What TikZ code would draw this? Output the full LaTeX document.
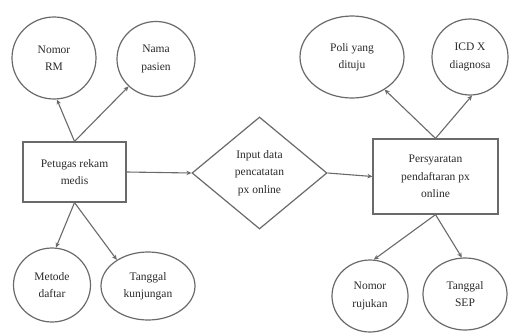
\documentclass[tikz,border=0pt]{standalone}
\usepackage{fontspec}
\setmainfont{Liberation Serif}
\usetikzlibrary{shapes.geometric,arrows.meta}
\definecolor{lin}{HTML}{6A6A6A}
\definecolor{txt}{HTML}{2A2A2A}
\tikzset{
  lbl/.style={text=txt,align=center,font=\fontsize{11.5}{17.5}\selectfont},
  bub/.style={ellipse,draw=lin,line width=1.2pt,inner sep=0pt,lbl},
  boxn/.style={rectangle,draw=lin,line width=1.2pt,inner sep=0pt,lbl},
  dia/.style={diamond,draw=lin,line width=1.2pt,inner sep=0pt,lbl},
  arr/.style={draw=lin,line width=1.1pt,-{Stealth[length=5pt,width=4.5pt]}}
}
\begin{document}
\begin{tikzpicture}[x=1pt,y=-1pt]
\useasboundingbox (0,0) rectangle (510,332);
\fill[white] (0,0) rectangle (510,332);
% left group
\node[boxn,minimum width=103pt,minimum height=60pt] (pet) at (74.5,172) {Petugas rekam\\medis};
\node[bub,minimum width=84pt,minimum height=82pt] (nomor) at (54,58) {Nomor\\RM};
\node[bub,minimum width=78pt,minimum height=75pt] (nama) at (156,59) {Nama\\pasien};
\node[bub,minimum width=77pt,minimum height=74pt] (metode) at (52,285) {Metode\\daftar};
\node[bub,minimum width=94pt,minimum height=68pt] (tglk) at (148,286) {Tanggal\\kunjungan};
% diamond
\node[dia,minimum width=135pt,minimum height=112pt] (inp) at (259.5,173) {Input data\\pencatatan\\px online};
% right group
\node[boxn,minimum width=125pt,minimum height=75pt] (per) at (435.5,176.5) {Persyaratan\\pendaftaran px\\online};
\node[bub,minimum width=104pt,minimum height=82pt] (poli) at (352,57) {Poli yang\\dituju};
\node[bub,minimum width=76pt,minimum height=76pt] (icd) at (470,57) {ICD X\\diagnosa};
\node[bub,minimum width=76pt,minimum height=72pt] (ruj) at (370,296) {Nomor\\rujukan};
\node[bub,minimum width=84pt,minimum height=72pt] (sep) at (465,294) {Tanggal\\SEP};
% connectors
\draw[arr] (pet.north) -- (nomor.-86);
\draw[arr] (pet.north) -- (nama.-135);
\draw[arr] (pet.south) -- (metode.84);
\draw[arr] (pet.south) -- (tglk.140);
\draw[arr] (pet.east) -- (inp.west);
\draw[arr] (inp.east) -- (per.west);
\draw[arr] (per.north) -- (poli.-45);
\draw[arr] (per.north) -- (icd.-87);
\draw[arr] (per.south) -- (ruj.84);
\draw[arr] (per.south) -- (sep.95);
\end{tikzpicture}
\end{document}
